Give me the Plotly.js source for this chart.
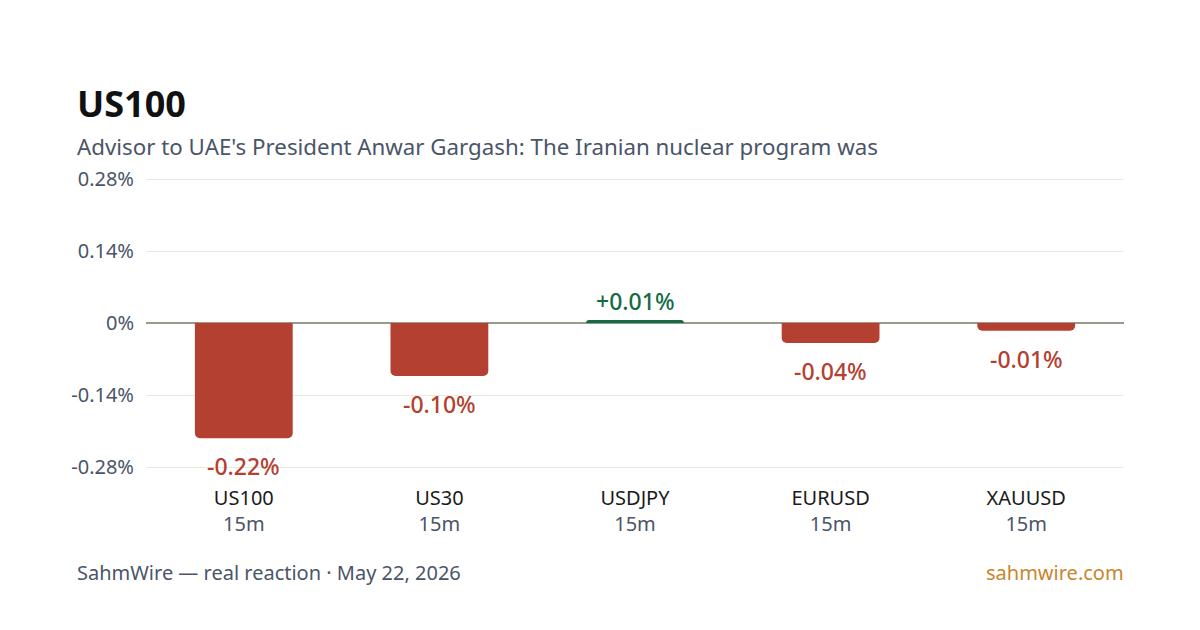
<!DOCTYPE html>
<html><head><meta charset="utf-8">
<script src="https://cdn.plot.ly/plotly-3.0.1.min.js"></script>
<style>html,body{margin:0;padding:0;background:#fff}#c{width:1200px;height:630px}</style>
</head><body><div id="c"></div>
<script>
const categories = ["US100", "US30", "USDJPY", "EURUSD", "XAUUSD"];
const windows = ["15m", "15m", "15m", "15m", "15m"];
const values = [-0.224, -0.103, 0.006, -0.039, -0.015];
const labels = ["-0.22%", "-0.10%", "+0.01%", "-0.04%", "-0.01%"];
const yTicks = [-0.28, -0.14, 0, 0.14, 0.28];
const yTickText = ["-0.28%", "-0.14%", "0%", "0.14%", "0.28%"];

const RED = "#b34030", GREEN = "#136b45";
const FONT = "Noto Sans, Open Sans, sans-serif";
const L = 146, R = 1124, T = 175, B = 471;
const px = x => (x - L) / (R - L);
const py = y => (B - y) / (B - T);
const half = ((B - T) / 2) / (72 / 0.14);

const tickText = categories.map((c, i) =>
  c + "<br><span style='color:#4a5568'>" + windows[i] + "</span>");

const annotations = values.map((v, i) => ({
  x: categories[i], y: v, xref: "x", yref: "y",
  text: labels[i], showarrow: false,
  yanchor: "middle", yshift: v >= 0 ? 19 : -28,
  font: {family: FONT, size: 23, weight: 500, color: v >= 0 ? GREEN : RED}
}));
annotations.push(
  {xref: "paper", yref: "paper", x: px(75), y: py(103), xanchor: "left", yanchor: "middle",
   text: "<b>US100</b>", showarrow: false, font: {family: FONT, size: 36, color: "#111"}},
  {xref: "paper", yref: "paper", x: px(75), y: py(146), xanchor: "left", yanchor: "middle",
   text: "Advisor to UAE's President Anwar Gargash: The Iranian nuclear program was",
   showarrow: false, font: {family: FONT, size: 22.3, color: "#4a5568"}},
  {xref: "paper", yref: "paper", x: px(75), y: py(572), xanchor: "left", yanchor: "middle",
   text: "SahmWire — real reaction · May 22, 2026", showarrow: false,
   font: {family: FONT, size: 20, color: "#4a5568"}},
  {xref: "paper", yref: "paper", x: px(1126), y: py(572), xanchor: "right", yanchor: "middle",
   text: "sahmwire.com", showarrow: false, font: {family: FONT, size: 20, color: "#c8862c"}}
);

const trace = {
  type: "bar", x: categories, y: values,
  marker: {color: values.map(v => v >= 0 ? GREEN : RED), cornerradius: 5},
  hoverinfo: "skip"
};

const layout = {
  width: 1200, height: 630,
  margin: {l: L, r: 1200 - R, t: T, b: 630 - B, pad: 0},
  paper_bgcolor: "#fff", plot_bgcolor: "#fff",
  bargap: 0.5, showlegend: false,
  font: {family: FONT},
  xaxis: {
    type: "category", tickvals: categories, ticktext: tickText,
    tickfont: {family: FONT, size: 20, color: "#1a1a1a"},
    showgrid: false, zeroline: false, showline: false, ticks: "", ticklabelstandoff: 13
  },
  yaxis: {
    range: [-half, half], tickvals: yTicks, ticktext: yTickText,
    tickfont: {family: FONT, size: 20, color: "#4a5568"},
    showgrid: true, gridcolor: "#ede8dc", gridwidth: 1,
    zeroline: true, zerolinecolor: "#9b9a88", zerolinewidth: 2,
    showline: false, ticks: "", ticklabelstandoff: 11
  },
  annotations: annotations
};

Plotly.newPlot("c", [trace], layout, {staticPlot: true, displayModeBar: false});
</script></body></html>
